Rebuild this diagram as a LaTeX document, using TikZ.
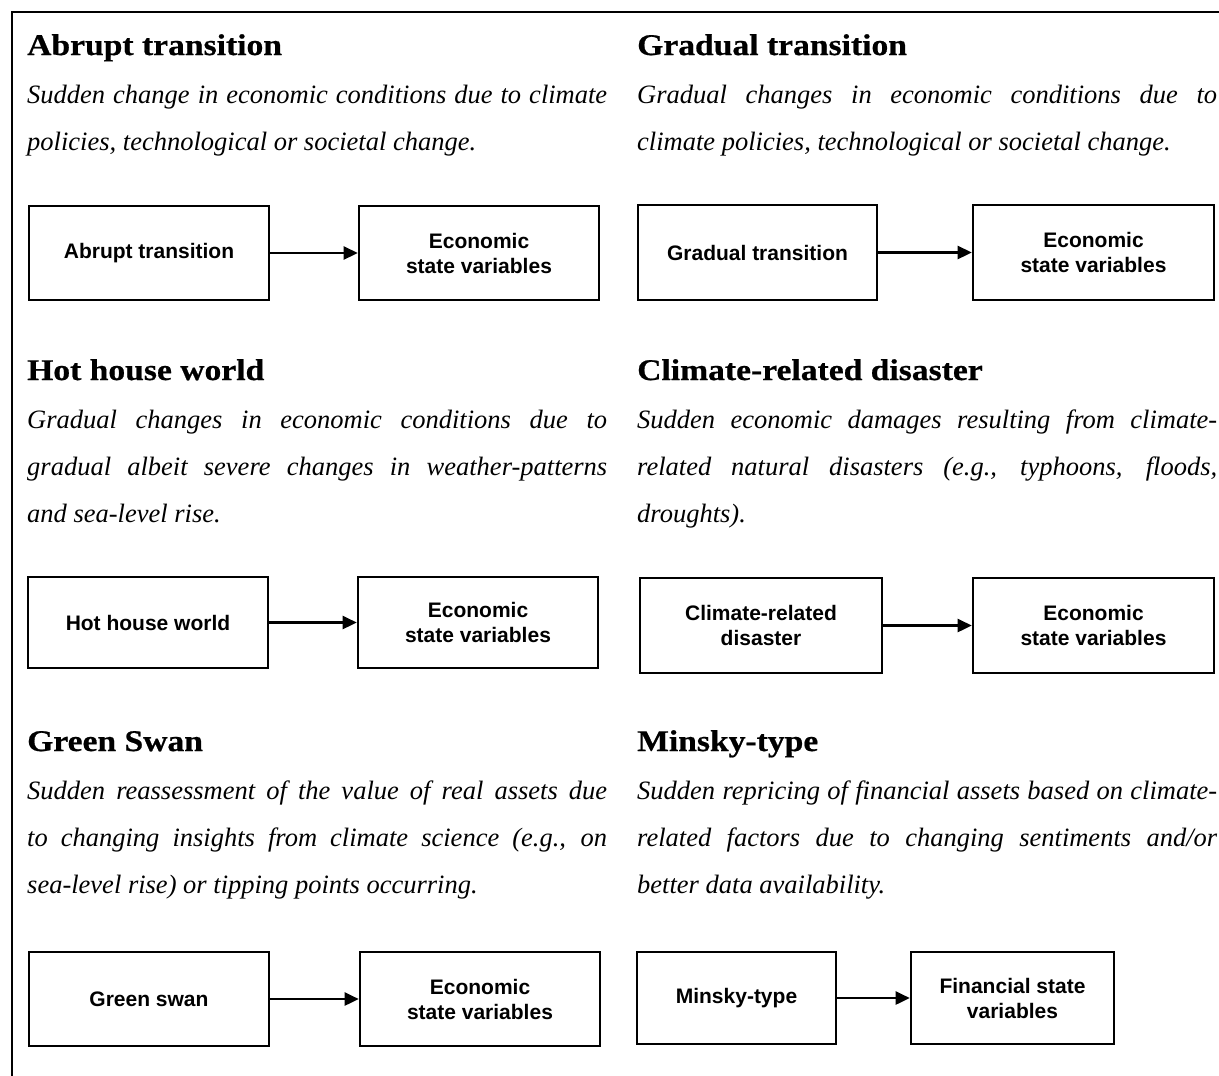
\documentclass[tikz,border=0pt]{standalone}
\usepackage{fontspec}
\setmainfont{Liberation Serif}
\newfontfamily\headfont[FakeStretch=1.12,FakeBold=0.6]{Liberation Serif}
\newfontfamily\boxfont{Liberation Sans}
\usetikzlibrary{arrows.meta,positioning}

\tikzset{
    heading/.style={anchor=base west, inner sep=0pt, font=\headfont\bfseries\fontsize{30}{36}\selectfont},
    blurb/.style={anchor=base west, inner sep=0pt, font=\itshape\fontsize{26.5}{47}\selectfont},
    box/.style={draw, line width=2.6pt, align=center, inner sep=0pt, font=\boxfont\bfseries\fontsize{21}{25}\selectfont},
    link/.style={line width=2.6pt, -{Triangle[length=14pt,width=13pt]}}
}
\newcommand{\blurbpar}[1]{\parbox[t]{580pt}{\tolerance=9999\hyphenpenalty=10000 #1}}

\begin{document}
\begin{tikzpicture}[x=1pt,y=-1pt]
    \useasboundingbox (0,0) rectangle (1219,1076);
    % Frame
    \draw[line width=2.6pt] (1219,12) -- (12,12) -- (12,1076);

    % Abrupt transition
    \node[heading] (abrupthead) at (27,55) {Abrupt transition};
    \node[blurb] (abrupttext) at (27,103) {\blurbpar{Sudden change in economic conditions due to climate\linebreak policies, technological or societal change.}};
    \node[box, minimum width=240pt, minimum height=94pt] (abrupt) at (149,253) {Abrupt transition};
    \node[box, minimum width=240pt, minimum height=94pt] (abruptout) at (479,253) {Economic\\state variables};
    \draw[link] (abrupt) -- (abruptout);

    % Gradual transition
    \node[heading] (gradualhead) at (637,55) {Gradual transition};
    \node[blurb] (gradualtext) at (637,103) {\blurbpar{Gradual changes in economic conditions due to\linebreak climate policies, technological or societal change.}};
    \node[box, minimum width=239pt, minimum height=95pt] (gradual) at (757.5,252.5) {Gradual transition};
    \node[box, minimum width=241pt, minimum height=95pt] (gradualout) at (1093.5,252.5) {Economic\\state variables};
    \draw[link] (gradual) -- (gradualout);

    % Hot house world
    \node[heading] (hothead) at (27,380) {Hot house world};
    \node[blurb] (hottext) at (27,428) {\blurbpar{Gradual changes in economic conditions due to\linebreak gradual albeit severe changes in weather-patterns\linebreak and sea-level rise.}};
    \node[box, minimum width=240pt, minimum height=91pt] (hothouse) at (148,622.5) {Hot house world};
    \node[box, minimum width=240pt, minimum height=91pt] (hothouseout) at (478,622.5) {Economic\\state variables};
    \draw[link] (hothouse) -- (hothouseout);

    % Climate-related disaster
    \node[heading] (disasterhead) at (637,380) {Climate-related disaster};
    \node[blurb] (disastertext) at (637,428) {\blurbpar{Sudden economic damages resulting from climate-\linebreak related natural disasters (e.g., typhoons, floods,\linebreak droughts).}};
    \node[box, minimum width=242pt, minimum height=95pt] (disaster) at (761,625.5) {Climate-related\\disaster};
    \node[box, minimum width=241pt, minimum height=95pt] (disasterout) at (1093.5,625.5) {Economic\\state variables};
    \draw[link] (disaster) -- (disasterout);

    % Green Swan
    \node[heading] (swanhead) at (27,751) {Green Swan};
    \node[blurb] (swantext) at (27,799) {\blurbpar{Sudden reassessment of the value of real assets due\linebreak to changing insights from climate science (e.g., on\linebreak sea-level rise) or tipping points occurring.}};
    \node[box, minimum width=240pt, minimum height=94pt] (swan) at (149,999) {Green swan};
    \node[box, minimum width=240pt, minimum height=94pt] (swanout) at (480,999) {Economic\\state variables};
    \draw[link] (swan) -- (swanout);

    % Minsky-type
    \node[heading] (minskyhead) at (637,751) {Minsky-type};
    \node[blurb] (minskytext) at (637,799) {\blurbpar{Sudden repricing of financial assets based on climate-\linebreak related factors due to changing sentiments and/or\linebreak better data availability.}};
    \node[box, minimum width=199pt, minimum height=92pt] (minsky) at (736.5,998) {Minsky-type};
    \node[box, minimum width=203pt, minimum height=92pt] (minskyout) at (1012.5,998) {Financial state\\variables};
    \draw[link] (minsky) -- (minskyout);
\end{tikzpicture}
\end{document}
